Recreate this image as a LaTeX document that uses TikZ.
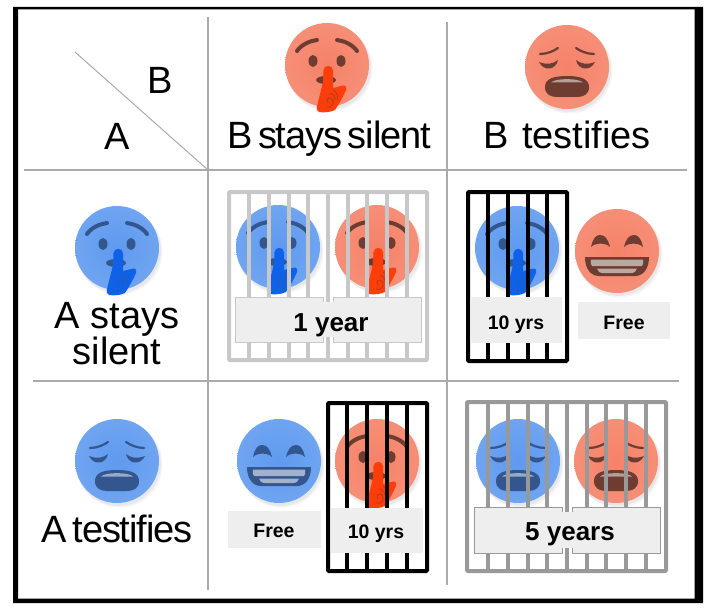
\documentclass[tikz,border=0pt]{standalone}
\usepackage{fontspec}
\setmainfont{Liberation Sans}
\newfontfamily\tightface[LetterSpace=-3,WordSpace=0.6]{Liberation Sans}
\definecolor{blueface}{HTML}{5F9AEF}
\definecolor{bluedark}{HTML}{34568F}
\definecolor{bluefing}{HTML}{0F62E8}
\definecolor{redface}{HTML}{F58268}
\definecolor{reddark}{HTML}{6E3C30}
\definecolor{redfing}{HTML}{FF3D0A}
\definecolor{labelfill}{HTML}{EEEEEE}
\definecolor{gridgrey}{HTML}{ABABAB}
\definecolor{barlight}{HTML}{C8C8C8}
\definecolor{barmid}{HTML}{999999}
\tikzset{
  gridline/.style={draw=gridgrey,line width=1.3pt},
  headtext/.style={font=\fontsize{38}{38}\selectfont,text=black,inner sep=0pt,anchor=base},
  tighttext/.style={font=\tightface\fontsize{38}{38}\selectfont,text=black,inner sep=0pt,anchor=base},
  bigtag/.style={font=\bfseries\fontsize{26}{26}\selectfont,text=black,inner sep=0pt,anchor=base},
  smalltag/.style={font=\bfseries\fontsize{19.5}{19.5}\selectfont,text=black,inner sep=0pt,anchor=base}
}
% disc with soft shadow: #1 x, #2 y, #3 colour
\newcommand{\facedisc}[3]{%
  \fill[black,opacity=.04] (#1+2.5,#2+3.5) circle (43);
  \fill[black,opacity=.05] (#1+1.5,#2+2.5) circle (42.5);
  \shade[inner color=#3,outer color=#3!90!white] (#1,#2) circle (42);
}
\newcommand{\faceshh}[5]{% x y base dark finger
  \facedisc{#1}{#2}{#3}
  \begin{scope}[shift={(#1,#2)}]
    \draw[#4,line width=4pt,line cap=round] (-30,-14) .. controls (-25,-21) and (-17,-24) .. (-10,-25);
    \draw[#4,line width=4pt,line cap=round] (30,-14) .. controls (25,-21) and (17,-24) .. (10,-25);
    \fill[#4] (-14,-4) ellipse (4.5 and 6);
    \fill[#4] (14,-4) ellipse (4.5 and 6);
    \fill[#4] (-1,15) ellipse (10 and 4);
    \fill[#5] (-3.5,5) .. controls (-3,-0.5) and (5.5,-0.5) .. (6,5)
      -- (6,23) -- (16,20.5) .. controls (19,20) and (20,23) .. (19,25)
      .. controls (16,32) and (12,39) .. (8,45)
      .. controls (4,47) and (-3,48) .. (-8,47)
      .. controls (-10,46) and (-11,44) .. (-10,41)
      -- (-4,17) -- cycle;
    \draw[#4!55!#5,line width=.8pt] (-1,42) .. controls (5,44) and (8,38) .. (5,34)
      .. controls (2,31) and (-2,35) .. (1,38);
    \draw[#4!55!#5,line width=.8pt] (6,25) .. controls (10,27) and (11,31) .. (10,35);
    \draw[#4!55!#5,line width=.8pt] (3,28) .. controls (6,29) and (8,31) .. (8,34);
  \end{scope}
}
\newcommand{\facesad}[4]{% x y base dark
  \facedisc{#1}{#2}{#3}
  \begin{scope}[shift={(#1,#2)}]
    \draw[#4,line width=2.2pt,line cap=round] (-27,-13) .. controls (-20,-13) and (-13,-16) .. (-9,-19);
    \draw[#4,line width=2.2pt,line cap=round] (27,-13) .. controls (20,-13) and (13,-16) .. (9,-19);
    \fill[#4] (-28,-5) .. controls (-20,-2) and (-14,-3) .. (-9,-7) .. controls (-11,3) and (-23,5) .. (-28,-5) -- cycle;
    \fill[#4] (28,-5) .. controls (20,-2) and (14,-3) .. (9,-7) .. controls (11,3) and (23,5) .. (28,-5) -- cycle;
    \fill[#4] (-22,20) .. controls (-22,12) and (-14,9) .. (0,9) .. controls (14,9) and (22,12) .. (22,20)
      .. controls (22,27) and (17,30) .. (10,30) -- (-10,30) .. controls (-17,30) and (-22,27) .. (-22,20) -- cycle;
    \fill[white,opacity=.5] (-16,15.5) .. controls (-12,11) and (12,11) .. (16,15.5) -- cycle;
  \end{scope}
}
\newcommand{\facegrin}[4]{% x y base dark
  \facedisc{#1}{#2}{#3}
  \begin{scope}[shift={(#1,#2)}]
    \fill[#4] (-26,-4) .. controls (-24,-13) and (-21,-16) .. (-17,-16) .. controls (-12,-16) and (-9,-12) .. (-7,-4)
      .. controls (-11,-8.5) and (-22,-8.5) .. (-26,-4) -- cycle;
    \fill[#4] (26,-4) .. controls (24,-13) and (21,-16) .. (17,-16) .. controls (12,-16) and (9,-12) .. (7,-4)
      .. controls (11,-8.5) and (22,-8.5) .. (26,-4) -- cycle;
    \fill[#4] (-32,6) -- (32,6) .. controls (32,18) and (26,25) .. (18,25) -- (-18,25) .. controls (-26,25) and (-32,18) .. (-32,6) -- cycle;
    \fill[white,opacity=.55] (-26,8.5) -- (26,8.5) .. controls (27,11) and (26,14) .. (25,15) -- (-25,15) .. controls (-26,14) and (-27,11) .. (-26,8.5) -- cycle;
    \fill[white,opacity=.55] (-20,17.5) -- (20,17.5) .. controls (19,20) and (18,22) .. (14,22) -- (-14,22) .. controls (-18,22) and (-19,20) .. (-20,17.5) -- cycle;
  \end{scope}
}
% jail: #1 colour #2 x0 #3 y0 #4 x1 #5 y1 #6 bars
\newcommand{\jail}[6]{%
  \draw[#1,line width=4pt,rounded corners=1pt] (#2,#3) rectangle (#4,#5);
  \foreach \bx in {#6} \draw[#1,line width=4pt] (\bx,#3) -- (\bx,#5);
}
\begin{document}
\begin{tikzpicture}[x=1pt,y=-1pt]
  \useasboundingbox (0,0) rectangle (718,610);
  \fill[white] (0,0) rectangle (718,610);
  \fill[black,even odd rule] (13,7) rectangle (703,603) (18,9.5) rectangle (694.5,598.5);

  % grid
  \draw[gridline] (208,17) -- (208,590);
  \draw[gridline] (447,22) -- (447,585);
  \draw[gridline] (24,170) -- (687,170);
  \draw[gridline] (33,381) -- (679,381);
  \draw[draw=gridgrey,line width=1pt] (75,52) -- (208,170);

  % headers
  \node[headtext] (labB) at (160,93) {B};
  \node[headtext] (labA) at (117,149) {A};
  \faceshh{327}{65}{redface}{reddark}{redfing}
  \node[tighttext] (headBsilent) at (329,148) {B stays silent};
  \facesad{567}{67}{redface}{reddark}
  \node[headtext] (headBtest) at (567,148) {B\hspace{3pt} testifies};
  \faceshh{117}{248}{blueface}{bluedark}{bluefing}
  \node[headtext] (headAsilent1) at (117,328.5) {A stays};
  \node[headtext] (headAsilent2) at (117,364.5) {silent};
  \facesad{117}{461}{blueface}{bluedark}
  \node[tighttext] (headAtest) at (117,542) {A testifies};

  % cell 1: 1 year
  \faceshh{278}{247}{blueface}{bluedark}{bluefing}
  \faceshh{377}{247}{redface}{reddark}{redfing}
  \jail{barlight}{229}{192}{427}{360}{249,269,289,308,328,348,367,387,407}
  \draw[barlight,line width=.7pt,fill=labelfill] (235,297) rectangle (323,342);
  \draw[barlight,line width=.7pt,fill=labelfill] (333,297) rectangle (421,342);
  \fill[labelfill] (322,302) rectangle (334,337);
  \node[bigtag] (tagOne) at (331,331) {1 year};

  % cell 2: 10 yrs / Free
  \faceshh{517}{248}{blueface}{bluedark}{bluefing}
  \jail{black}{468}{192}{567}{361}{488,508,528,547}
  \draw[black,line width=.7pt] (470,297) -- (562,297);
  \fill[labelfill] (470,297.4) rectangle (562,343);
  \node[smalltag] (tagTenA) at (516,329) {10 yrs};
  \facegrin{617}{251}{redface}{reddark}
  \fill[labelfill] (578,302) rectangle (670,339);
  \node[smalltag] (tagFreeB) at (624,329) {Free};

  % cell 3: Free / 10 yrs
  \facegrin{279}{461}{blueface}{bluedark}
  \fill[labelfill] (228,511) rectangle (321,548);
  \node[smalltag] (tagFreeA) at (274,537) {Free};
  \faceshh{377}{461}{redface}{reddark}{redfing}
  \jail{black}{328}{403}{427}{571}{347,367,387,407}
  \draw[black,line width=.7pt] (331,508) -- (423,508);
  \fill[labelfill] (331,508.4) rectangle (423,553);
  \node[smalltag] (tagTenB) at (376,538) {10 yrs};

  % cell 4: 5 years
  \facesad{518}{461}{blueface}{bluedark}
  \facesad{616}{461}{redface}{reddark}
  \jail{barmid}{467}{402}{666}{571}{488,508,528,547,567,587,606,626,646}
  \draw[barmid,line width=.7pt,fill=labelfill] (474,507) rectangle (562,553);
  \draw[barmid,line width=.7pt,fill=labelfill] (572,507) rectangle (660,553);
  \fill[labelfill] (561,512) rectangle (573,548);
  \node[bigtag] (tagFive) at (570,540) {5 years};
\end{tikzpicture}
\end{document}
